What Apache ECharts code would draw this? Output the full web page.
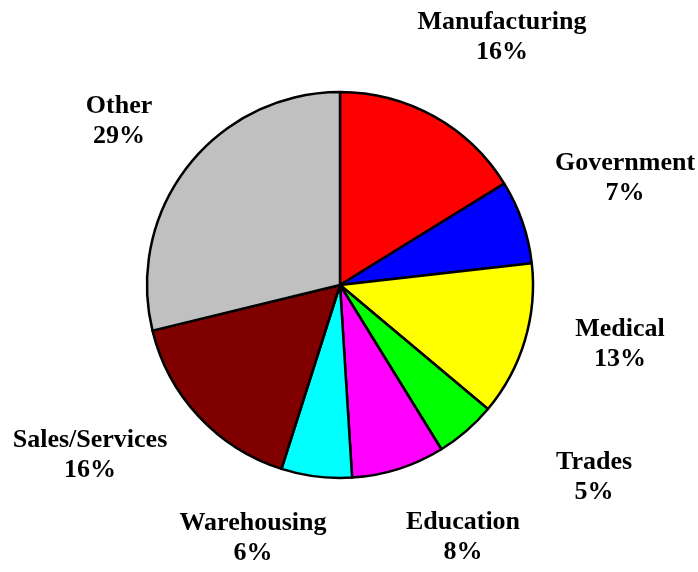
<!DOCTYPE html>
<html>
<head>
<meta charset="utf-8">
<script src="https://cdn.jsdelivr.net/npm/echarts@6/dist/echarts.min.js"></script>
<style>html,body{margin:0;padding:0;background:#fff}#c{width:698px;height:572px}</style>
</head>
<body>
<div id="c"></div>
<script>
const categories = ['Manufacturing','Government','Medical','Trades','Education','Warehousing','Sales/Services','Other'];
const values = [16.2, 7.0, 12.9, 5.1, 7.8, 5.9, 16.3, 28.8];
const colors = ['#FF0000','#0000FF','#FFFF00','#00FF00','#FF00FF','#00FFFF','#800000','#C0C0C0'];
const labelPos = [[502,37],[625,178],[620,344],[594,477],[463,537],[253,538],[90,455],[119,121]];

const chart = echarts.init(document.getElementById('c'));
chart.setOption({
  animation: false,
  series: [{
    type: 'pie',
    center: [340, 285],
    radius: 193,
    startAngle: 90,
    clockwise: true,
    data: categories.map((n, i) => ({ name: n, value: values[i], itemStyle: { color: colors[i] } })),
    itemStyle: { borderColor: '#000', borderWidth: 2.5 },
    label: {
      show: true,
      position: 'outside',
      alignTo: 'none',
      overflow: 'none',
      formatter: p => p.name + '\n' + Math.round(p.percent) + '%',
      fontFamily: '"Liberation Serif", "Times New Roman", serif',
      fontWeight: 'bold',
      fontSize: 26,
      lineHeight: 30,
      color: '#000',
      align: 'center'
    },
    labelLine: { show: false },
    labelLayout: p => ({ x: labelPos[p.dataIndex][0], y: labelPos[p.dataIndex][1], align: 'center', verticalAlign: 'middle', hideOverlap: false, width: 300 }),
    emphasis: { disabled: true }
  }]
});
</script>
</body>
</html>
